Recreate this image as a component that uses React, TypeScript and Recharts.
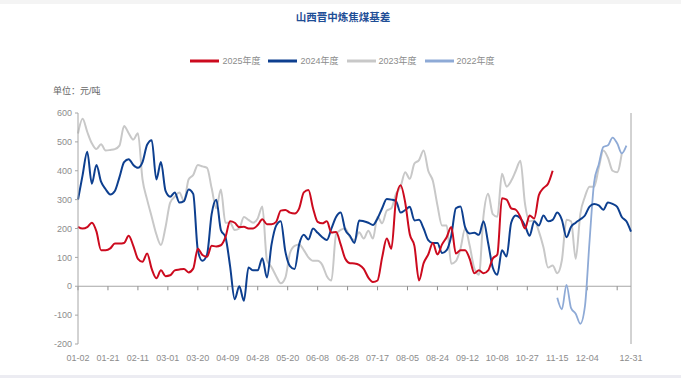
import React from 'react';
import { LineChart, Line, XAxis, YAxis, ReferenceLine } from 'recharts';

// trading-day index of each point (every 2nd day), ~241 days in the year
const dayIdx = Array.from({ length: 121 }, (_, k) => k * 2);

const tickIdx = [0, 13, 26, 39, 52, 65, 78, 91, 104, 117, 130, 143, 156, 169, 182, 195, 208, 221, 234, 240];
const tickLabels = ['01-02', '01-21', '02-11', '03-01', '03-20', '04-09', '04-28', '05-20', '06-08', '06-28',
  '07-17', '08-05', '08-24', '09-12', '10-08', '10-27', '11-15', '12-04', '', '12-31'];

const yTicks = [-200, -100, 0, 100, 200, 300, 400, 500, 600];

const s2025 = [
  206, 200, 205, 220, 190, 125, 125, 131, 148, 148,
  150, 175, 140, 95, 85, 113, 60, 28, 55, 35,
  38, 55, 58, 60, 48, 61, 130, 108, 102, 140,
  138, 142, 170, 225, 220, 205, 206, 200, 200, 212,
  232, 215, 215, 223, 262, 264, 255, 252, 270, 325,
  333, 270, 223, 218, 225, 186, 188, 145, 95, 80,
  79, 74, 60, 30, 15, 20, 100, 165, 130, 300,
  350, 290, 180, 140, 20, 80, 110, 150, 110, 145,
  170, 205, 113, 125, 125, 95, 45, 55, 45, 55,
  96, 110, 305, 300, 270, 265, 240, 200, 245, 235,
  315, 340, 355, 400,
  ...Array(17).fill(null),
];

const s2024 = [
  300, 385, 466, 355, 420, 362, 336, 318, 330, 378,
  430, 440, 420, 410, 430, 490, 506, 370, 430, 330,
  310, 325, 290, 295, 335, 320, 125, 88, 110, 250,
  300, 195, 170, 70, -45, 0, -50, 65, 55, 55,
  97, 30, 145, 210, 225, 120, 70, 60, 145, 178,
  162, 200, 185, 170, 160, 200, 240, 255, 195, 175,
  150, 228, 225, 220, 212, 235, 270, 302, 300, 295,
  255, 264, 275, 228, 230, 200, 160, 150, 150, 115,
  125, 175, 270, 276, 205, 183, 185, 178, 225, 150,
  65, 40, 125, 103, 220, 245, 235, 210, 175, 225,
  210, 245, 225, 230, 255, 230, 170, 206, 220, 232,
  245, 276, 285, 280, 265, 290, 285, 275, 240, 225, 189,
];

const s2023 = [
  529, 580, 535, 495, 475, 492, 470, 472, 475, 487,
  555, 530, 508, 530, 370, 300, 240, 180, 143, 205,
  290, 310, 325, 295, 370, 385, 420, 415, 410, 340,
  270, 335, 220, 220, 195, 200, 240, 230, 220, 235,
  276, 90, 66, 35, 10, 30, 115, 140, 145, 125,
  100, 88, 88, 74, 35, 20, 180, 195, 200, 170,
  160, 187, 165, 192, 165, 241, 218, 262, 270, 320,
  345, 395, 372, 425, 437, 470, 400, 365, 280, 210,
  210, 78, 87, 130, 200, 140, 62, 40, 245, 320,
  250, 241, 390, 345, 365, 400, 435, 285, 225, 228,
  190, 135, 65, 72, 45, 90, 230, 225, 95, 250,
  310, 345, 345, 410, 470, 445, 400, 395, 460,
  null, null,
];

const s2022 = [
  ...Array(104).fill(null),
  -40, -80, 5, -76, -95, -130, -70, 155, 360, 422,
  482, 488, 515, 495, 460, 487,
  null,
];

const series = [
  { key: 's2023', name: '2023年度', color: '#c8c8c8', width: 2 },
  { key: 's2022', name: '2022年度', color: '#8eaad6', width: 1.8 },
  { key: 's2024', name: '2024年度', color: '#0d3f8f', width: 2 },
  { key: 's2025', name: '2025年度', color: '#cc0a1e', width: 2 },
];
const legendOrder = ['s2025', 's2024', 's2023', 's2022'];

const data = dayIdx.map((x, k) => ({
  x,
  s2025: s2025[k],
  s2024: s2024[k],
  s2023: s2023[k],
  s2022: s2022[k],
}));

const font = "'Liberation Sans', 'Noto Sans CJK SC', sans-serif";

function LegendBox() {
  return (
    <div style={{ position: 'absolute', left: 0, top: 54, width: 681, display: 'flex', justifyContent: 'center', alignItems: 'center', fontFamily: font, fontSize: 9, color: '#8c8c8c', paddingLeft: 12, boxSizing: 'border-box' }}>
      {legendOrder.map((k) => {
        const s = series.find((d) => d.key === k)!;
        return (
          <div key={k} style={{ display: 'flex', alignItems: 'center', marginRight: 8 }}>
            <svg width={29} height={4} style={{ marginRight: 3 }}>
              <line x1={0} y1={2} x2={29} y2={2} stroke={s.color} strokeWidth={3} />
            </svg>
            <span>{s.name}</span>
          </div>
        );
      })}
    </div>
  );
}

export default function App() {
  return (
    <div style={{ position: 'absolute', left: 0, top: 0, width: 681, height: 378, background: '#fff', overflow: 'hidden' }}>
      <div style={{ position: 'absolute', left: 0, top: 0, width: 681, height: 4, background: '#f4f4f4' }} />
      <div style={{ position: 'absolute', left: 0, bottom: 0, width: 681, height: 3, background: '#ececf2' }} />
      <div style={{ position: 'absolute', left: 0, top: 9, width: 686, textAlign: 'center', fontFamily: font, fontSize: 10.5, fontWeight: 700, color: '#1f4e96' }}>
        山西晋中炼焦煤基差
      </div>
      <div style={{ position: 'absolute', left: 53, top: 84, fontFamily: font, fontSize: 9, color: '#666' }}>
        单位：元/吨
      </div>
      <LegendBox />
      <LineChart width={681} height={378} data={data} margin={{ top: 113, right: 50, bottom: 14, left: 38 }}>
        <XAxis
          type="number"
          dataKey="x"
          domain={[0, 240]}
          ticks={tickIdx}
          tickFormatter={(v: number) => tickLabels[tickIdx.indexOf(v)] ?? ''}
          axisLine={false}
          tickLine={false}
          tickSize={6}
          tickMargin={5}
          height={20}
          interval={0}
          tick={{ fill: '#8c8c8c', fontSize: 9, fontFamily: font }}
        />
        <YAxis
          domain={[-200, 600]}
          ticks={yTicks}
          width={40}
          tickSize={3}
          tickMargin={3}
          axisLine={{ stroke: '#a6a6a6' }}
          tickLine={{ stroke: '#a6a6a6' }}
          tick={{ fill: '#8c8c8c', fontSize: 9, fontFamily: font }}
        />
        <ReferenceLine y={0} stroke="#a6a6a6" strokeWidth={1.2} />
        <ReferenceLine x={240} stroke="#a6a6a6" />
        {tickIdx.slice(0, -1).map((t) => (
          <ReferenceLine key={t} segment={[{ x: t, y: 0 }, { x: t, y: -14 }]} stroke="#8c8c8c" />
        ))}
        {series.map((s) => (
          <Line
            key={s.key}
            type="monotone"
            dataKey={s.key}
            name={s.name}
            stroke={s.color}
            strokeWidth={s.width}
            dot={false}
            isAnimationActive={false}
          />
        ))}
      </LineChart>
    </div>
  );
}
